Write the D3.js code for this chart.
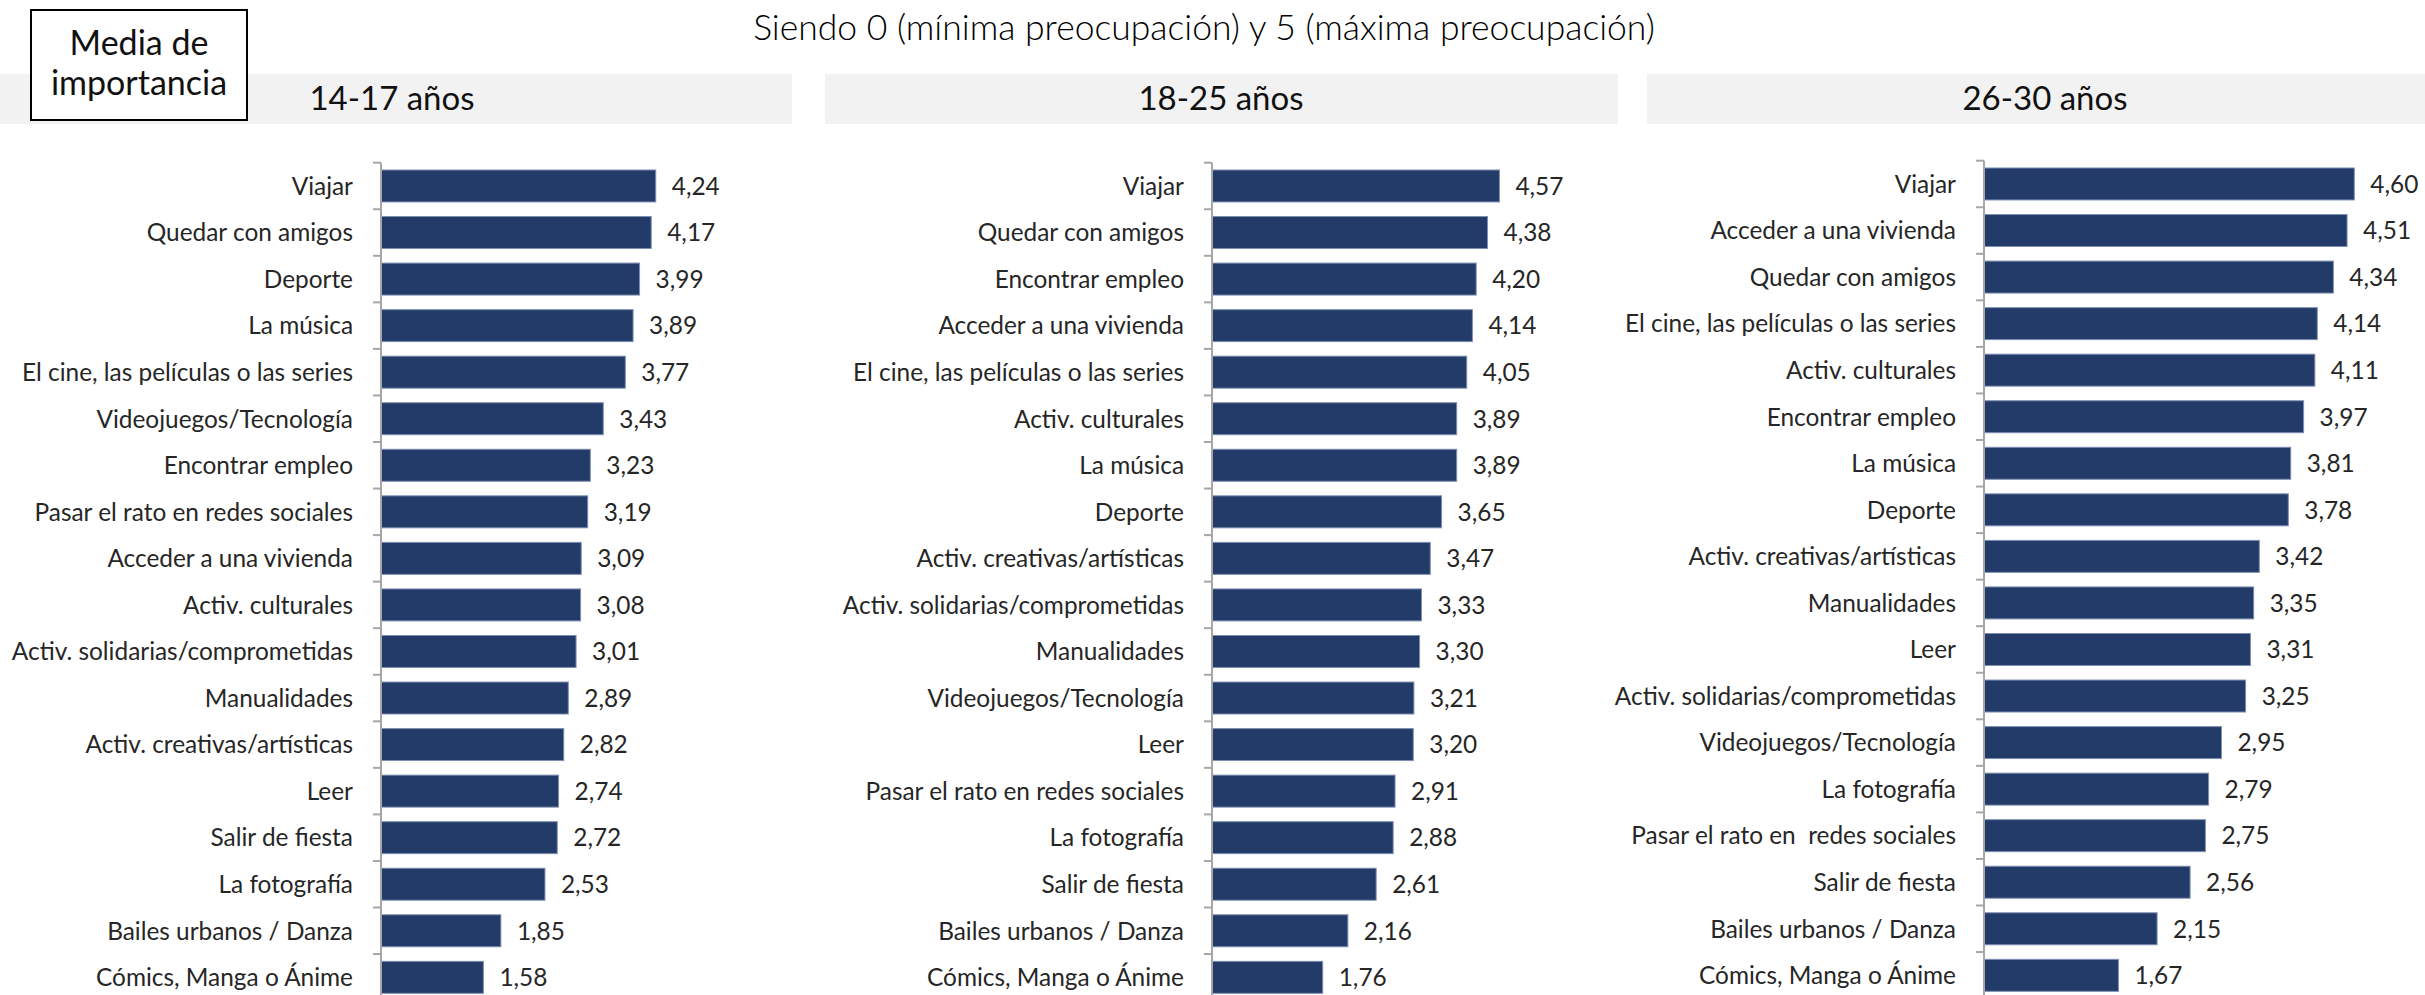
<!DOCTYPE html>
<html>
<head>
<meta charset="utf-8">
<script src="https://cdn.jsdelivr.net/npm/d3@7"></script>
<style>
  body { margin: 0; background: #fff; }
  svg { display: block; font-family: Lato, "Open Sans", sans-serif; }
</style>
</head>
<body>
<div id="chart"></div>
<script>
// data, one set of arrays per age group
var groups = ["14-17 años", "18-25 años", "26-30 años"];

var cats1 = ["Viajar", "Quedar con amigos", "Deporte", "La música", "El cine, las películas o las series",
    "Videojuegos/Tecnología", "Encontrar empleo", "Pasar el rato en redes sociales", "Acceder a una vivienda",
    "Activ. culturales", "Activ. solidarias/comprometidas", "Manualidades", "Activ. creativas/artísticas",
    "Leer", "Salir de fiesta", "La fotografía", "Bailes urbanos / Danza", "Cómics, Manga o Ánime"];
var vals1 = [4.24, 4.17, 3.99, 3.89, 3.77, 3.43, 3.23, 3.19, 3.09, 3.08, 3.01, 2.89, 2.82, 2.74, 2.72, 2.53, 1.85, 1.58];

var cats2 = ["Viajar", "Quedar con amigos", "Encontrar empleo", "Acceder a una vivienda",
    "El cine, las películas o las series", "Activ. culturales", "La música", "Deporte",
    "Activ. creativas/artísticas", "Activ. solidarias/comprometidas", "Manualidades", "Videojuegos/Tecnología",
    "Leer", "Pasar el rato en redes sociales", "La fotografía", "Salir de fiesta", "Bailes urbanos / Danza",
    "Cómics, Manga o Ánime"];
var vals2 = [4.57, 4.38, 4.20, 4.14, 4.05, 3.89, 3.89, 3.65, 3.47, 3.33, 3.30, 3.21, 3.20, 2.91, 2.88, 2.61, 2.16, 1.76];

var cats3 = ["Viajar", "Acceder a una vivienda", "Quedar con amigos", "El cine, las películas o las series",
    "Activ. culturales", "Encontrar empleo", "La música", "Deporte", "Activ. creativas/artísticas",
    "Manualidades", "Leer", "Activ. solidarias/comprometidas", "Videojuegos/Tecnología", "La fotografía",
    "Pasar el rato en  redes sociales", "Salir de fiesta", "Bailes urbanos / Danza", "Cómics, Manga o Ánime"];
var vals3 = [4.60, 4.51, 4.34, 4.14, 4.11, 3.97, 3.81, 3.78, 3.42, 3.35, 3.31, 3.25, 2.95, 2.79, 2.75, 2.56, 2.15, 1.67];

var xDomain = [0, 5];

var W = 2425, H = 995;
var fmt = d3.format(".2f");

var svg = d3.select("#chart")
    .append("svg")
    .attr("width", W)
    .attr("height", H);

// subtitle
svg.append("text")
    .attr("x", 1204)
    .attr("y", 40)
    .attr("text-anchor", "middle")
    .style("font-size", "35.5px")
    .style("font-weight", "300")
    .style("fill", "#000")
    .text("Siendo 0 (mínima preocupación) y 5 (máxima preocupación)");

// panel layout (pixels)
var panels = [
    {band: [0, 792], title: 392, axis: 381, unit: 64.8, top: 162.7},
    {band: [825, 1618], title: 1221, axis: 1212, unit: 62.9, top: 162.7},
    {band: [1647, 2425], title: 2045, axis: 1984, unit: 80.5, top: 160.7}
];

function draw(cats, vals, group, p) {
    var data = cats.map(function (c, i) {
        return {name: c, value: vals[i]};
    });

    // grey header band
    svg.append("rect")
        .attr("x", p.band[0])
        .attr("y", 74)
        .attr("width", p.band[1] - p.band[0])
        .attr("height", 50)
        .style("fill", "#f2f2f2");

    svg.append("text")
        .attr("x", p.title)
        .attr("y", 110)
        .attr("text-anchor", "middle")
        .style("font-size", "33px")
        .style("fill", "#111")
        .text(group);

    var x = d3.scaleLinear()
        .domain(xDomain)
        .range([p.axis, p.axis + p.unit * 5]);

    var y = d3.scaleBand()
        .domain(cats)
        .range([p.top, p.top + 46.55 * cats.length])
        .paddingInner(0.313)
        .paddingOuter(0.1565);

    var half = y.step() * y.paddingInner() / 2;

    var g = svg.append("g");

    // bars
    g.selectAll("rect.bar")
        .data(data)
        .enter()
        .append("rect")
        .attr("class", "bar")
        .attr("x", x(0))
        .attr("y", function (d) { return y(d.name); })
        .attr("width", function (d) { return x(d.value) - x(0); })
        .attr("height", y.bandwidth())
        .style("fill", "#233b68")
        .style("stroke", "#7d8fb2")
        .style("stroke-width", 1);

    // category axis, ticks between categories
    g.append("line")
        .attr("x1", x(0))
        .attr("x2", x(0))
        .attr("y1", p.top)
        .attr("y2", H)
        .style("stroke", "#a6a6a6")
        .style("stroke-width", 2);

    g.selectAll("line.tick")
        .data(cats)
        .enter()
        .append("line")
        .attr("class", "tick")
        .attr("x1", x(0) - 8)
        .attr("x2", x(0))
        .attr("y1", function (d) { return y(d) - half; })
        .attr("y2", function (d) { return y(d) - half; })
        .style("stroke", "#a6a6a6")
        .style("stroke-width", 2);

    // category labels
    g.selectAll("text.cat")
        .data(data)
        .enter()
        .append("text")
        .attr("class", "cat")
        .attr("x", x(0) - 28)
        .attr("y", function (d) { return y(d.name) + y.bandwidth() / 2; })
        .attr("dy", "0.36em")
        .attr("text-anchor", "end")
        .style("font-size", "24.4px")
        .style("fill", "#262626")
        .style("white-space", "pre")
        .text(function (d) { return d.name; });

    // value labels
    g.selectAll("text.val")
        .data(data)
        .enter()
        .append("text")
        .attr("class", "val")
        .attr("x", function (d) { return x(d.value) + 16; })
        .attr("y", function (d) { return y(d.name) + y.bandwidth() / 2; })
        .attr("dy", "0.36em")
        .style("font-size", "24.4px")
        .style("fill", "#262626")
        .text(function (d) { return fmt(d.value).replace(".", ","); });
}

draw(cats1, vals1, groups[0], panels[0]);
draw(cats2, vals2, groups[1], panels[1]);
draw(cats3, vals3, groups[2], panels[2]);

// "Media de importancia" box, drawn over the first band
var box = svg.append("g");
box.append("rect")
    .attr("x", 31)
    .attr("y", 10)
    .attr("width", 216)
    .attr("height", 110)
    .style("fill", "#fff")
    .style("stroke", "#000")
    .style("stroke-width", 2);

box.append("text")
    .attr("x", 139)
    .attr("y", 55)
    .attr("text-anchor", "middle")
    .style("font-size", "34px")
    .style("fill", "#111")
    .text("Media de");

box.append("text")
    .attr("x", 139)
    .attr("y", 95)
    .attr("text-anchor", "middle")
    .style("font-size", "34px")
    .style("fill", "#111")
    .text("importancia");
</script>
</body>
</html>
